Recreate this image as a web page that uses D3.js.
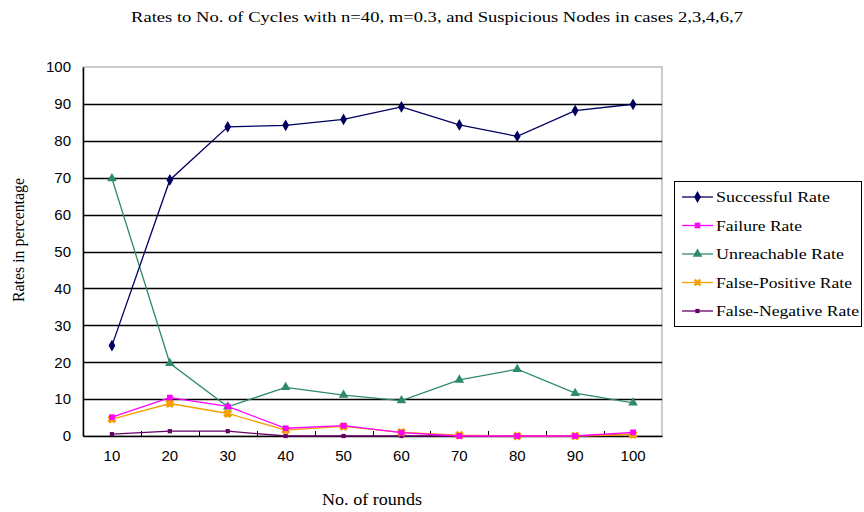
<!DOCTYPE html>
<html>
<head>
<meta charset="utf-8">
<script src="https://cdn.jsdelivr.net/npm/d3@7"></script>
<style>
  body { margin: 0; background: #fff; }
  svg text { fill: #000; }
</style>
</head>
<body>
<svg id="chart" width="864" height="512"></svg>
<script>
const rounds = [10, 20, 30, 40, 50, 60, 70, 80, 90, 100];
const yTicks = [0, 10, 20, 30, 40, 50, 60, 70, 80, 90, 100];

const successful = [24.5, 69.4, 83.8, 84.2, 85.8, 89.2, 84.3, 81.2, 88.2, 89.9];
const failure = [5.1, 10.4, 8.0, 2.1, 2.8, 0.9, 0, 0, 0, 1.0];
const unreachable = [69.8, 19.7, 7.9, 13.2, 11.1, 9.6, 15.2, 18.1, 11.6, 9.0];
const falsePositive = [4.6, 8.8, 6.1, 1.6, 2.6, 1.0, 0.2, 0, 0, 0.4];
const falseNegative = [0.5, 1.3, 1.3, 0, 0, 0, 0, 0, 0, 0.5];

const seriesNames = ["Successful Rate", "Failure Rate", "Unreachable Rate", "False-Positive Rate", "False-Negative Rate"];
const seriesValues = [successful, failure, unreachable, falsePositive, falseNegative];
const colors = ["#000060", "#ff00ff", "#2e8b6a", "#f5a000", "#660066"];
const shapes = ["diamond", "square", "triangle", "star", "square"];
const sizes = [40, 32, 40, 36, 18];
const legendTextWidths = [114, 86, 128, 136, 143];

const svg = d3.select("#chart");
const plotL = 83, plotR = 662, plotT = 67, plotB = 436;

const x = d3.scaleBand().domain(rounds).range([plotL, plotR]);
const y = d3.scaleLinear().domain([0, 100]).range([plotB, plotT]);

// title
svg.append("text")
    .attr("x", 437).attr("y", 22)
    .attr("text-anchor", "middle")
    .attr("font-family", "Liberation Serif")
    .attr("font-size", 14)
    .attr("textLength", 612)
    .attr("lengthAdjust", "spacingAndGlyphs")
    .text("Rates to No. of Cycles with n=40, m=0.3, and Suspicious Nodes in cases 2,3,4,6,7");

// plot frame
svg.append("rect")
    .attr("x", plotL).attr("y", plotT)
    .attr("width", plotR - plotL).attr("height", plotB - plotT)
    .attr("fill", "#fff").attr("stroke", "#999").attr("stroke-width", 1);

// gridlines
svg.append("g")
    .selectAll("line")
    .data(yTicks.filter(d => d > 0 && d < 100))
    .enter().append("line")
    .attr("x1", plotL).attr("x2", plotR)
    .attr("y1", d => Math.round(y(d)) + 0.5).attr("y2", d => Math.round(y(d)) + 0.5)
    .attr("stroke", "#000").attr("stroke-width", 1.5);

// y axis
const yAxis = svg.append("g")
    .attr("transform", "translate(" + plotL + ",0)")
    .call(d3.axisLeft(y).tickValues(yTicks).tickSize(0).tickPadding(12));
yAxis.select(".domain").attr("stroke", "#000").attr("stroke-width", 1.5);
yAxis.selectAll("text")
    .attr("font-family", "Liberation Sans")
    .attr("font-size", 15)
    .attr("fill", "#000");

// x axis
const xAxis = svg.append("g")
    .attr("transform", "translate(0," + plotB + ")")
    .call(d3.axisBottom(x).tickSize(0).tickPadding(14));
xAxis.select(".domain").attr("stroke", "#000").attr("stroke-width", 1.5);
xAxis.selectAll("text")
    .attr("font-family", "Liberation Sans")
    .attr("font-size", 15)
    .attr("fill", "#000");

// x tick marks between categories, pointing up
svg.append("g")
    .selectAll("line")
    .data(rounds.slice(1))
    .enter().append("line")
    .attr("x1", d => Math.round(x(d)) + 0.5).attr("x2", d => Math.round(x(d)) + 0.5)
    .attr("y1", plotB).attr("y2", plotB - 5)
    .attr("stroke", "#000");

// axis titles
svg.append("text")
    .attr("x", 372).attr("y", 505)
    .attr("text-anchor", "middle")
    .attr("font-family", "Liberation Serif")
    .attr("font-size", 16)
    .attr("textLength", 100)
    .attr("lengthAdjust", "spacingAndGlyphs")
    .text("No. of rounds");

svg.append("text")
    .attr("transform", "translate(24,240) rotate(-90)")
    .attr("text-anchor", "middle")
    .attr("font-family", "Liberation Serif")
    .attr("font-size", 16)
    .attr("textLength", 124)
    .attr("lengthAdjust", "spacingAndGlyphs")
    .text("Rates in percentage");

const cx = d => x(d) + x.bandwidth() / 2;

function symbolFor(shape, size) {
    if (shape === "diamond") return d3.symbol().type(d3.symbolDiamond).size(size)();
    if (shape === "square") return d3.symbol().type(d3.symbolSquare).size(size)();
    if (shape === "triangle") return d3.symbol().type(d3.symbolTriangle).size(size)();
    return d3.symbol().type(d3.symbolCross).size(size)();
}

// series, drawn bottom-up so the top ones sit above
seriesValues.map((vals, i) => i).reverse().forEach(i => {
    const vals = seriesValues[i];
    const data = rounds.map((r, k) => ({ r, v: vals[k] }));
    const line = d3.line().x(d => cx(d.r)).y(d => y(d.v));
    const g = svg.append("g");
    g.append("path")
        .datum(data)
        .attr("d", line)
        .attr("fill", "none")
        .attr("stroke", colors[i])
        .attr("stroke-width", 1.3);
    g.selectAll("path.m")
        .data(data)
        .enter().append("path")
        .attr("class", "m")
        .attr("transform", d => "translate(" + cx(d.r) + "," + y(d.v) + ")" + (shapes[i] === "star" ? " rotate(45)" : ""))
        .attr("d", symbolFor(shapes[i], sizes[i]))
        .attr("fill", colors[i])
        .attr("stroke", shapes[i] === "star" ? colors[i] : "none");
});

// legend
const legend = svg.append("g");
legend.append("rect")
    .attr("x", 674.5).attr("y", 181.5)
    .attr("width", 187).attr("height", 145)
    .attr("fill", "#fff").attr("stroke", "#000").attr("stroke-width", 1);

seriesNames.forEach((name, i) => {
    const ly = 197 + i * 28.5;
    legend.append("line")
        .attr("x1", 682).attr("x2", 713)
        .attr("y1", ly).attr("y2", ly)
        .attr("stroke", colors[i]).attr("stroke-width", 1.3);
    legend.append("path")
        .attr("transform", "translate(697.5," + ly + ")" + (shapes[i] === "star" ? " rotate(45)" : ""))
        .attr("d", symbolFor(shapes[i], sizes[i]))
        .attr("fill", colors[i]);
    legend.append("text")
        .attr("x", 716).attr("y", ly + 5)
        .attr("font-family", "Liberation Serif")
        .attr("font-size", 15)
        .attr("textLength", legendTextWidths[i])
        .attr("lengthAdjust", "spacingAndGlyphs")
        .text(name);
});
</script>
</body>
</html>
